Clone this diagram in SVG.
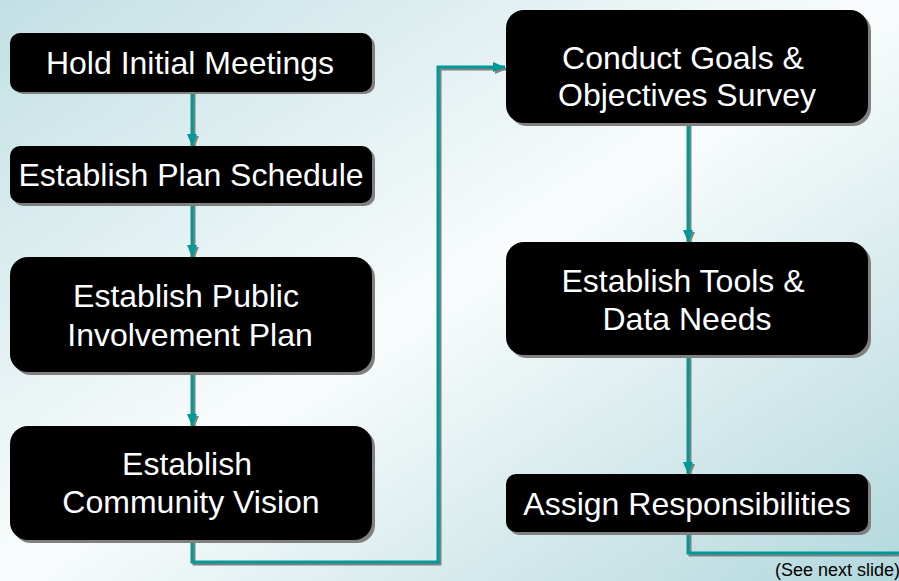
<svg xmlns="http://www.w3.org/2000/svg" width="899" height="581" viewBox="0 0 899 581">
<defs>
<linearGradient id="bg" x1="0" y1="0" x2="1" y2="1">
<stop offset="0" stop-color="#c2e0e4"/>
<stop offset="0.5" stop-color="#f9fcfc"/>
<stop offset="1" stop-color="#b2d8dc"/>
</linearGradient>
<marker id="ah" viewBox="0 0 12 10" refX="12" refY="5" markerWidth="12" markerHeight="10" markerUnits="userSpaceOnUse" orient="auto">
<path d="M0,0 L12,5 L0,10 Z" fill="#009999"/>
</marker>
<marker id="ahs" viewBox="0 0 12 10" refX="12" refY="5" markerWidth="12" markerHeight="10" markerUnits="userSpaceOnUse" orient="auto">
<path d="M0,0 L12,5 L0,10 Z" fill="#808080"/>
</marker>
</defs>
<style>
.box{fill:#000}
.sh{fill:#808080}
.t{fill:#fff;font-family:"Liberation Sans",Arial,sans-serif;font-size:32px;text-anchor:middle}
.c{fill:none;stroke:#009999;stroke-width:3}
.cs{fill:none;stroke:#808080;stroke-width:3}
.note{fill:#000;font-family:"Liberation Sans",Arial,sans-serif;font-size:18px}
</style>
<rect x="0" y="0" width="899" height="581" fill="url(#bg)"/>

<g id="connectors">
<g transform="translate(2,2)">
<path class="cs" d="M192,92 V146" marker-end="url(#ahs)"/>
<path class="cs" d="M192,203 V257" marker-end="url(#ahs)"/>
<path class="cs" d="M192,372 V426" marker-end="url(#ahs)"/>
<path class="cs" d="M192,540 V562 H438 V67 H505" marker-end="url(#ahs)"/>
<path class="cs" d="M688,123 V242" marker-end="url(#ahs)"/>
<path class="cs" d="M688,355 V474" marker-end="url(#ahs)"/>
<path class="cs" d="M688,532 V553 H905"/>
</g>
<path class="c" d="M192,92 V146" marker-end="url(#ah)"/>
<path class="c" d="M192,203 V257" marker-end="url(#ah)"/>
<path class="c" d="M192,372 V426" marker-end="url(#ah)"/>
<path class="c" d="M192,540 V562 H438 V67 H505" marker-end="url(#ah)"/>
<path class="c" d="M688,123 V242" marker-end="url(#ah)"/>
<path class="c" d="M688,355 V474" marker-end="url(#ah)"/>
<path class="c" d="M688,532 V553 H905"/>
</g>

<g id="n1">
<rect class="sh" x="13" y="36" width="362" height="58" rx="10"/>
<rect class="box" x="10" y="33" width="362" height="59" rx="10"/>
<text class="t" x="190" y="74">Hold Initial Meetings</text>
</g>
<g id="n2">
<rect class="sh" x="13" y="149" width="362" height="57" rx="10"/>
<rect class="box" x="10" y="146" width="362" height="57" rx="10"/>
<text class="t" x="191" y="186">Establish Plan Schedule</text>
</g>
<g id="n3">
<rect class="sh" x="13" y="260" width="362" height="115" rx="18"/>
<rect class="box" x="10" y="257" width="362" height="115" rx="18"/>
<text class="t" x="186" y="307">Establish Public</text>
<text class="t" x="190" y="346">Involvement Plan</text>
</g>
<g id="n4">
<rect class="sh" x="13" y="429" width="362" height="114" rx="18"/>
<rect class="box" x="10" y="426" width="362" height="114" rx="18"/>
<text class="t" x="187" y="475">Establish</text>
<text class="t" x="191" y="513">Community Vision</text>
</g>
<g id="n5">
<rect class="sh" x="509" y="13" width="362" height="113" rx="18"/>
<rect class="box" x="506" y="10" width="362" height="113" rx="18"/>
<text class="t" x="683" y="69">Conduct Goals &amp;</text>
<text class="t" x="687" y="106">Objectives Survey</text>
</g>
<g id="n6">
<rect class="sh" x="509" y="245" width="362" height="113" rx="18"/>
<rect class="box" x="506" y="242" width="362" height="113" rx="18"/>
<text class="t" x="683" y="292">Establish Tools &amp;</text>
<text class="t" x="687" y="330">Data Needs</text>
</g>
<g id="n7">
<rect class="sh" x="509" y="477" width="362" height="58" rx="10"/>
<rect class="box" x="506" y="474" width="362" height="58" rx="10"/>
<text class="t" x="687" y="515">Assign Responsibilities</text>
</g>
<text class="note" x="775" y="576">(See next slide)</text>
</svg>
